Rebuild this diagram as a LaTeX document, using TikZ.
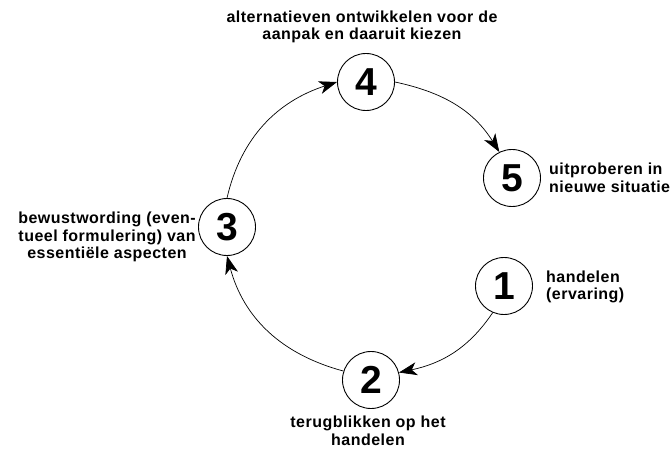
\documentclass[tikz,border=0pt]{standalone}
\usepackage{fontspec}
\setmainfont{Liberation Sans}[LetterSpace=3]
\usetikzlibrary{arrows.meta}
\begin{document}
\begin{tikzpicture}[x=1pt,y=1pt,
  num/.style={circle,draw,line width=0.9pt,minimum size=57pt,inner sep=0pt,
    font=\fontsize{39}{41}\selectfont\bfseries},
  lbl/.style={font=\fontsize{16}{17.5}\selectfont\bfseries,inner sep=0pt},
  conn/.style={line width=0.7pt,-{Stealth[length=18pt,width=13pt,inset=5pt]}}]
\useasboundingbox (0,0) rectangle (672,453);
\node[num] (n4) at (366,371) {4};
\node[num] (n5) at (512,275) {5};
\node[num] (n1) at (504,167) {1};
\node[num] (n2) at (371,73) {2};
\node[num] (n3) at (227,226) {3};
\node[lbl,align=center] (l4) at (362,426) {alternatieven ontwikkelen voor de\\aanpak en daaruit kiezen};
\node[lbl,align=left,anchor=west] (l5) at (549,275) {uitproberen in\\nieuwe situatie};
\node[lbl,align=left,anchor=west] (l1) at (546,166) {handelen\\(ervaring)};
\node[lbl,align=center,anchor=east] (l3) at (196,216) {bewustwording (even-\\tueel formulering) van\\essentiële aspecten};
\node[lbl,align=center] (l2) at (368,22) {terugblikken op het\\handelen};
\draw[conn] (n4.0) to[out=-12,in=122] (n5.116);
\draw[conn] (n1.-113) to[out=-124,in=12] (n2.15);
\draw[conn] (n2.162) to[out=165,in=-75] (n3.-90);
\draw[conn] (n3.90) to[out=77,in=198] (n4.180);
\end{tikzpicture}
\end{document}
